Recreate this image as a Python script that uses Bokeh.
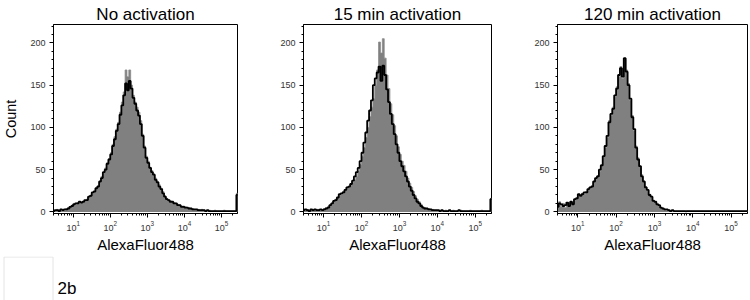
from bokeh.plotting import figure
from bokeh.layouts import column, row
from bokeh.models import FixedTicker, LogTickFormatter, Range1d, ColumnDataSource, Label
from bokeh.embed import file_html
from bokeh.resources import INLINE

# ---- data (histogram bins in log10 units of AlexaFluor488 intensity) ----
bin_log_start = 0.45
bin_log_width = 0.05

titles = ["No activation", "15 min activation", "120 min activation"]
x_label = "AlexaFluor488"
y_label = "Count"
y_ticks = [0, 50, 100, 150, 200]
x_ticks = [10, 100, 1000, 10000, 100000]

grey_1 = [2,1,3,2,1,3,2,4,5,6,
          8,10,9,11,10,12,11,13,15,17,
          20,22,25,27,31,35,42,46,52,58,
          63,70,80,89,98,106,118,130,142,168,
          160,168,150,138,130,124,118,108,92,78,
          66,60,53,49,45,40,36,32,28,24,
          19,16,14,13,12,11,10,9,8,7,
          7,6,5,5,4,4,3,3,3,2,
          3,2,2,1,2,1,1,2,1,1,
          1,1,2,1,1,1,1,1,1,22]
black_1 = [1,2,2,1,3,2,3,3,4,6,
           7,9,10,10,12,11,12,14,14,18,
           19,23,24,28,30,36,40,47,50,57,
           62,68,78,86,96,104,115,126,138,152,
           144,155,146,135,128,120,114,104,90,76,
           64,58,52,47,44,38,35,30,27,22,
           18,15,14,12,12,10,10,8,8,6,
           6,5,5,4,4,3,3,3,2,2,
           2,2,1,2,1,1,1,1,1,1,
           1,1,1,1,1,1,1,1,1,20]
grey_2 = [3,2,3,2,2,3,2,3,3,2,
          3,4,5,6,7,9,12,15,18,20,
          21,24,26,28,30,32,35,38,42,48,
          56,66,76,88,100,113,124,134,150,168,
          201,188,205,182,162,146,128,115,102,90,
          77,68,60,55,48,40,34,29,24,19,
          15,12,9,6,5,4,4,3,3,2,
          2,1,2,1,1,2,1,1,1,2,
          1,1,1,2,1,1,1,1,2,1,
          1,1,1,1,2,1,1,1,1,16]
black_2 = [2,3,2,1,3,2,3,2,2,3,
           2,3,4,5,8,10,13,14,17,21,
           22,23,26,29,30,33,37,42,47,52,
           60,70,82,94,108,120,132,150,158,165,
           172,155,173,162,145,130,116,104,92,80,
           70,60,54,48,42,36,30,25,20,16,
           12,10,7,5,4,4,3,3,2,2,
           2,2,1,2,1,1,1,2,1,1,
           1,1,2,1,1,1,1,1,1,1,
           1,1,1,1,1,1,1,1,1,15]
grey_3 = [8,12,6,10,5,9,8,11,10,14,
          17,20,18,22,21,24,26,28,31,35,
          39,43,48,56,65,76,88,108,114,124,
          136,148,160,172,158,180,168,152,132,114,
          96,78,64,52,44,35,30,25,21,17,
          14,12,10,7,5,4,3,2,2,2,
          1,1,1,1,1,1,1,0,1,1,
          1,1,1,1,1,1,1,1,1,1,
          1,1,1,1,1,1,1,1,1,1,
          1,1,1,1,1,1,1,1,1,1]
black_3 = [6,10,9,7,8,11,7,12,9,15,
           16,21,19,21,23,23,27,29,30,36,
           40,42,50,55,66,78,90,106,116,122,
           138,146,162,170,160,182,166,150,134,112,
           98,76,62,54,42,36,29,26,20,18,
           13,12,9,8,5,4,3,3,2,1,
           2,1,1,1,1,1,1,1,1,1,
           1,1,1,1,1,1,1,1,1,1,
           1,1,1,1,1,1,1,1,1,1,
           1,1,1,1,1,1,1,1,1,1]

panel_label = "2b"

FONT = "Liberation Sans"


def make_panel(title, grey, black, b_left, b_right, show_ylabel):
    n = len(grey)
    edges = [10 ** (bin_log_start + bin_log_width * i) for i in range(n + 1)]
    p = figure(width=250, height=256, x_axis_type="log",
               x_range=Range1d(10 ** 0.47, 10 ** 5.43),
               y_range=Range1d(-1.9, 221.8),
               output_backend="svg", toolbar_location=None,
               min_border_left=b_left, min_border_right=b_right,
               min_border_top=24, min_border_bottom=43,
               title=title)
    p.title.align = "center"
    p.title.text_font = FONT
    p.title.text_font_size = "17px"
    p.title.text_font_style = "normal"
    p.title.text_color = "black"
    p.title.standoff = 2
    p.title.offset = 0

    ys_grey = list(grey) + [grey[-1]]
    ys_black = list(black) + [black[-1]]
    src = ColumnDataSource(dict(x=edges, grey=ys_grey, black=ys_black, zero=[0] * (n + 1)))
    p.varea_step(x="x", y1="zero", y2="grey", step_mode="after", source=src,
                 fill_color="#808080")
    p.step(x="x", y="grey", mode="after", source=src, line_color="#8c8c8c", line_width=0.8)
    p.step(x="x", y="black", mode="after", source=src, line_color="black", line_width=1.8)

    p.xgrid.visible = False
    p.ygrid.visible = False
    p.outline_line_color = "black"
    p.outline_line_width = 1
    p.background_fill_color = "white"
    p.border_fill_color = "white"

    minor_x = [m * 10 ** d for d in range(0, 6) for m in range(2, 10)]
    p.xaxis.ticker = FixedTicker(ticks=x_ticks, minor_ticks=minor_x)
    p.xaxis.formatter = LogTickFormatter()
    p.yaxis.ticker = FixedTicker(ticks=y_ticks, minor_ticks=list(range(0, 221, 10)))
    for ax in (p.xaxis, p.yaxis):
        ax.axis_line_color = "black"
        ax.major_tick_line_color = "black"
        ax.minor_tick_line_color = "black"
        ax.major_tick_in = 0
        ax.major_tick_out = 4
        ax.minor_tick_in = 0
        ax.minor_tick_out = 2
        ax.major_label_text_font = FONT
        ax.major_label_text_font_size = "9px"
        ax.major_label_text_color = "#333333"
        ax.axis_label_text_font = FONT
        ax.axis_label_text_font_style = "normal"
        ax.axis_label_text_color = "black"
    p.xaxis.major_label_standoff = 3
    p.yaxis.major_label_standoff = 4
    p.xaxis.axis_label = x_label
    p.xaxis.axis_label_text_font_size = "15px"
    p.xaxis.axis_label_standoff = 2
    if show_ylabel:
        p.yaxis.axis_label = y_label
        p.yaxis.axis_label_text_font_size = "14.5px"
        p.yaxis.axis_label_standoff = 8
    return p


p1 = make_panel(titles[0], grey_1, black_1, 49, 13, True)
p2 = make_panel(titles[1], grey_2, black_2, 53, 9, False)
p3 = make_panel(titles[2], grey_3, black_3, 57, 3, False)

p4 = figure(width=750, height=44, x_range=Range1d(0, 750), y_range=Range1d(0, 44),
            output_backend="svg", toolbar_location=None,
            min_border_left=0, min_border_right=0, min_border_top=0, min_border_bottom=0)
p4.axis.visible = False
p4.xgrid.visible = False
p4.ygrid.visible = False
p4.outline_line_color = None
p4.quad(left=[3.5], right=[52.5], bottom=[-2], top=[43.5], fill_color="white",
        line_color="#e4e4e4", line_width=1)
p4.add_layout(Label(x=57, y=3, text=panel_label, text_font=FONT,
                    text_font_size="17px", text_color="black"))

layout = column(row(p1, p2, p3, spacing=0), p4, spacing=0)

open("out.html", "w").write(file_html(layout, INLINE))
